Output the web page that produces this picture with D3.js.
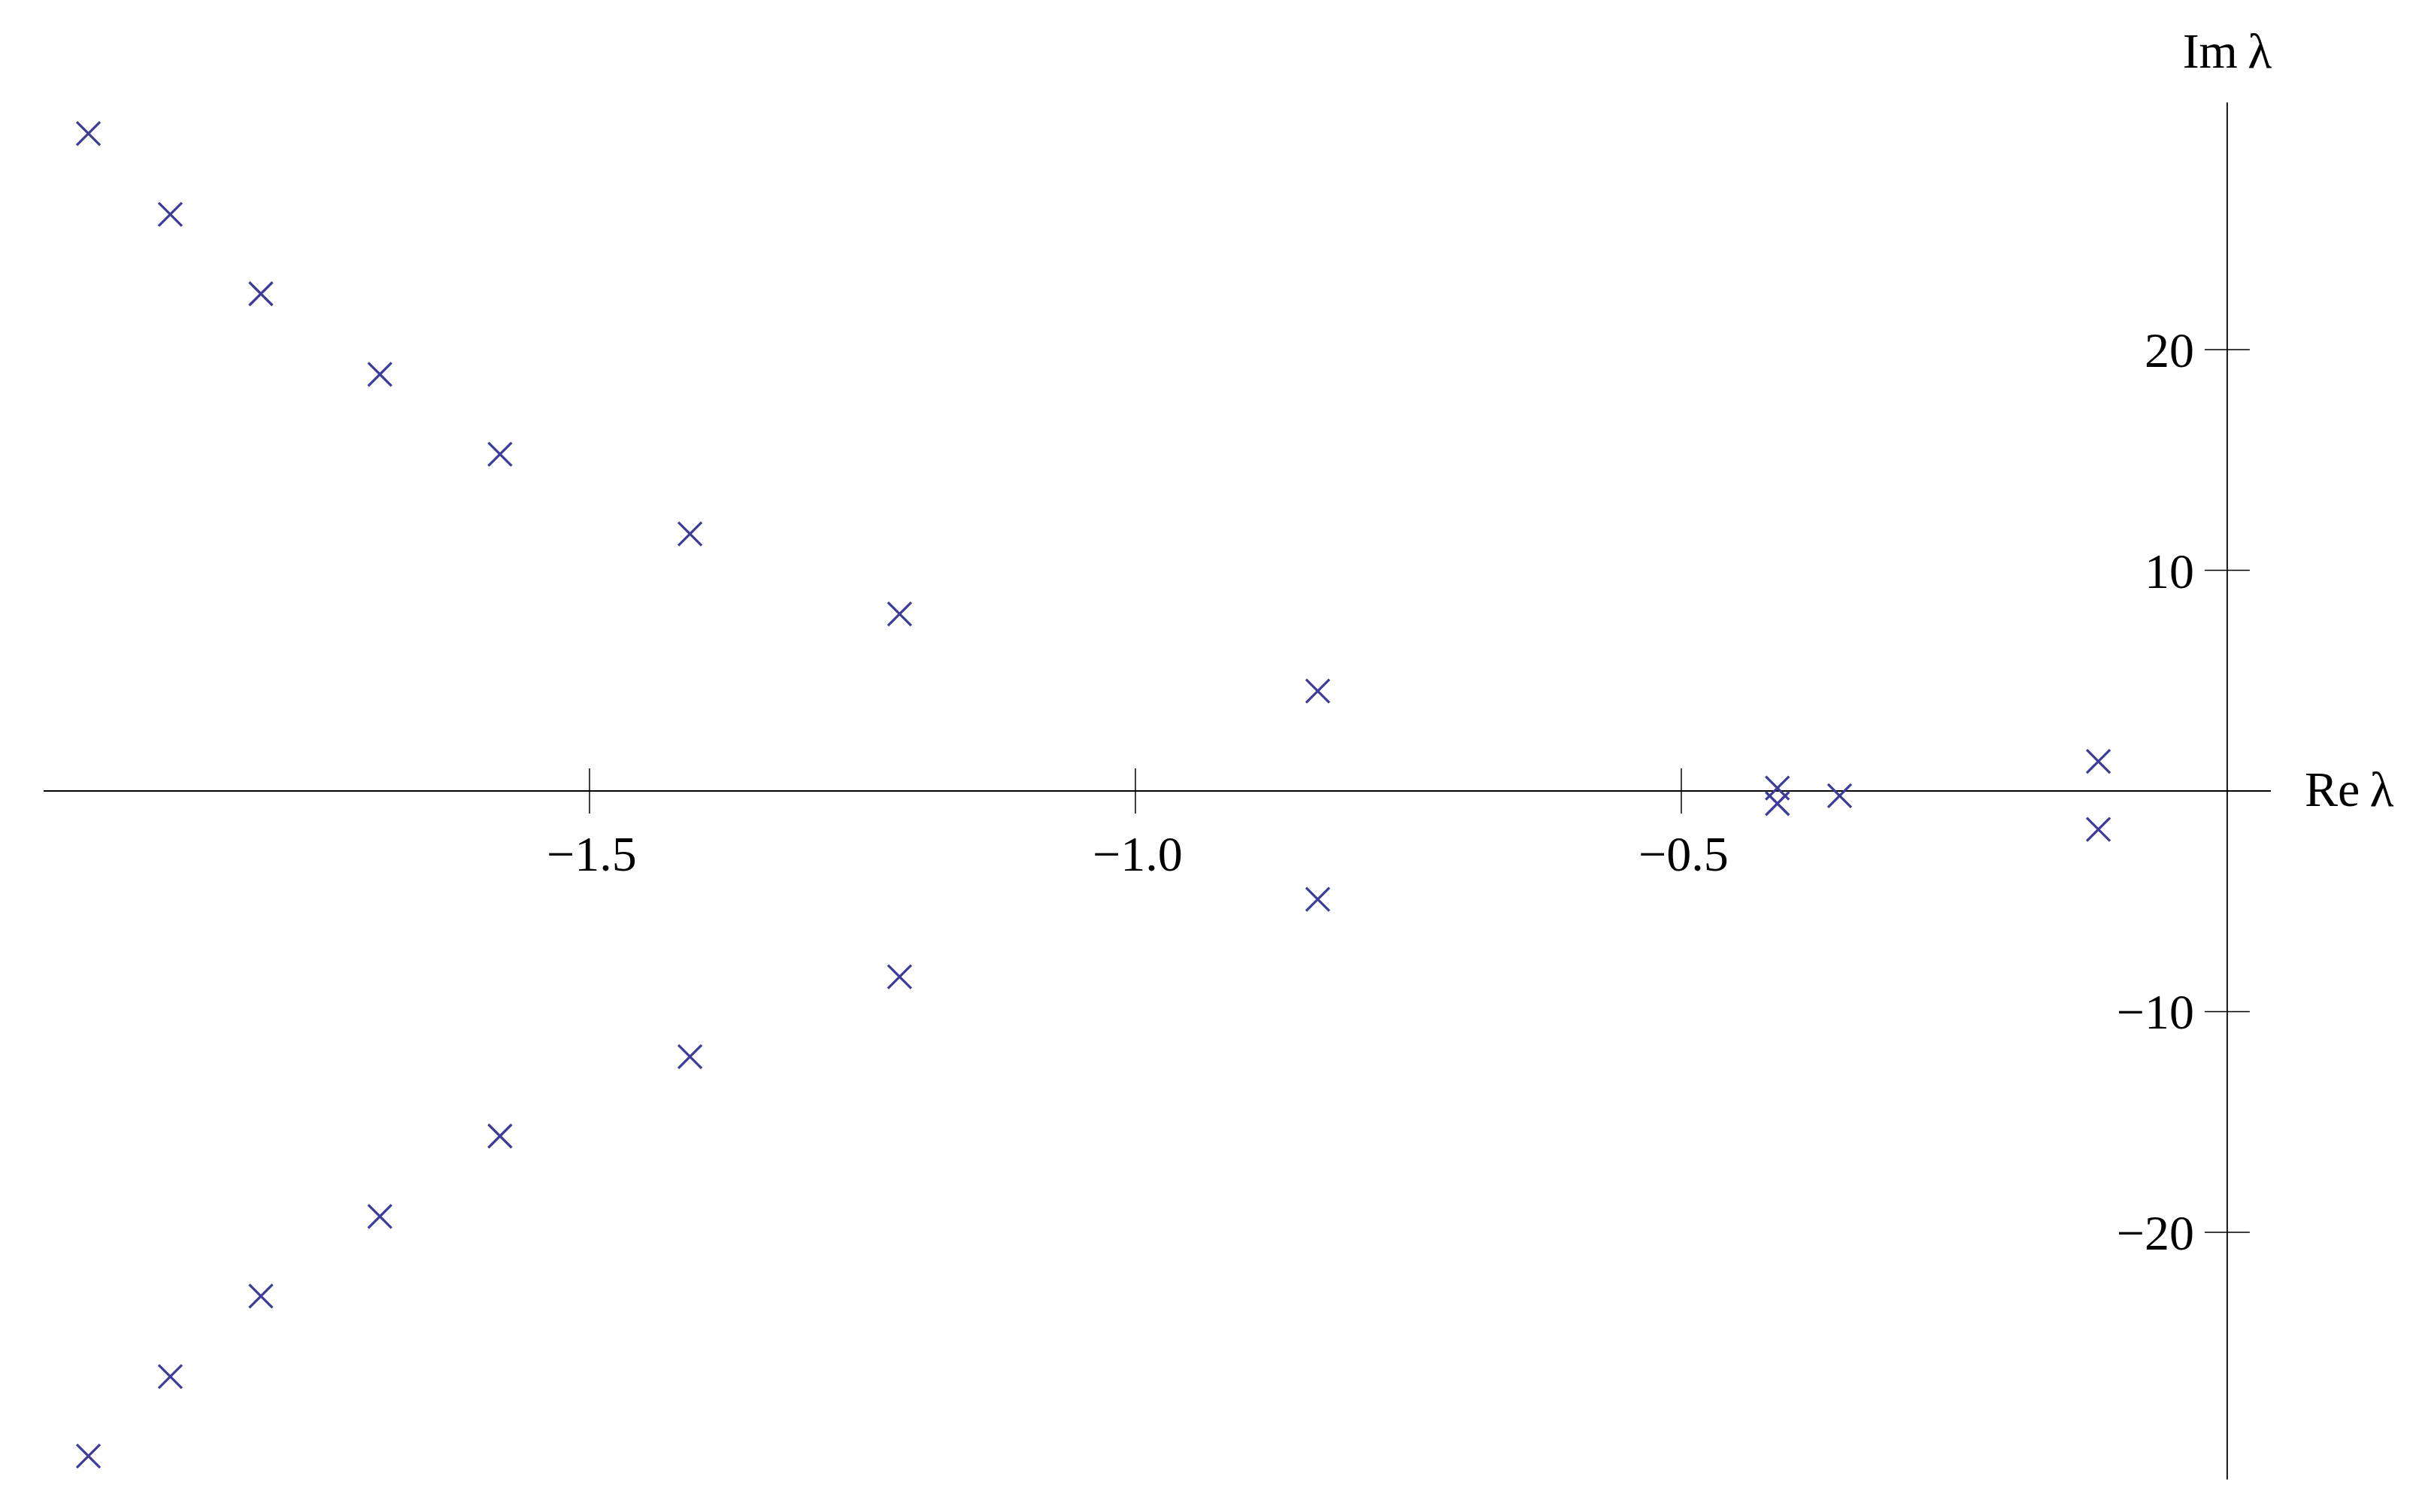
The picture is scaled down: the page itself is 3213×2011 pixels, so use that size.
<!DOCTYPE html>
<html>
<head>
<meta charset="utf-8">
<script src="https://cdn.jsdelivr.net/npm/d3@7"></script>
<style>
  html, body { margin: 0; padding: 0; background: #fff; }
  svg { display: block; }
  text { font-family: "Liberation Serif", "Times New Roman", serif; fill: #000; }
</style>
</head>
<body>
<script>
// Data: eigenvalues λ (real part, imaginary part)
const reValues = [-1.959, -1.884, -1.801, -1.692, -1.582, -1.408, -1.216, -0.833, -0.412, -0.412, -0.355, -0.118, -0.118,
                  -0.833, -1.216, -1.408, -1.582, -1.692, -1.801, -1.884, -1.959];
const imValues = [29.79, 26.13, 22.53, 18.88, 15.26, 11.65, 8.02, 4.53, 0.13, -0.57, -0.22, 1.34, -1.74,
                  -4.91, -8.42, -12.04, -15.64, -19.28, -22.89, -26.54, -30.14];
const xTicks = [-1.5, -1.0, -0.5];
const xTickLabels = ["\u22121.5", "\u22121.0", "\u22120.5"];
const yTicks = [20, 10, -10, -20];
const yTickLabels = ["20", "10", "\u221210", "\u221220"];
const xAxisLabel = "Re\u2009λ";
const yAxisLabel = "Im\u2009λ";

const W = 3213, H = 2011;
const svg = d3.select("body").append("svg").attr("width", W).attr("height", H);

const x = d3.scaleLinear().domain([-2.0, 0.04]).range([58, 3020]);
const y = d3.scaleLinear().domain([-31.2, 31.2]).range([1967.7, 136.3]);

const x0 = x(0), y0 = y(0);
const axisColor = "#000";

// X axis line
svg.append("line")
  .attr("x1", x.range()[0]).attr("x2", x.range()[1])
  .attr("y1", y0).attr("y2", y0)
  .attr("stroke", axisColor).attr("stroke-width", 1.8);
// Y axis line
svg.append("line")
  .attr("x1", x0).attr("x2", x0)
  .attr("y1", y.range()[1]).attr("y2", y.range()[0])
  .attr("stroke", axisColor).attr("stroke-width", 1.8);

const fs = 66;

// X ticks
const xt = svg.append("g").selectAll("g").data(xTicks).join("g");
xt.append("line")
  .attr("x1", d => x(d)).attr("x2", d => x(d))
  .attr("y1", y0 - 30).attr("y2", y0 + 30)
  .attr("stroke", axisColor).attr("stroke-width", 1.5);
xt.append("text")
  .attr("x", d => x(d) + 3).attr("y", y0 + 106)
  .attr("text-anchor", "middle")
  .attr("font-size", fs)
  .text((d, i) => xTickLabels[i]);

// Y ticks
const yt = svg.append("g").selectAll("g").data(yTicks).join("g");
yt.append("line")
  .attr("x1", x0 - 30).attr("x2", x0 + 30)
  .attr("y1", d => y(d)).attr("y2", d => y(d))
  .attr("stroke", axisColor).attr("stroke-width", 1.5);
yt.append("text")
  .attr("x", x0 - 44).attr("y", d => y(d) + 23)
  .attr("text-anchor", "end")
  .attr("font-size", fs)
  .text((d, i) => yTickLabels[i]);

// Axis labels
svg.append("text")
  .attr("x", x0 + 103).attr("y", y0 + 20)
  .attr("font-size", fs)
  .text(xAxisLabel);
svg.append("text")
  .attr("x", x0).attr("y", 90)
  .attr("text-anchor", "middle")
  .attr("font-size", fs)
  .text(yAxisLabel);

// Markers (×)
const pts = reValues.map((r, i) => ({ re: r, im: imValues[i] }));
const h = 15.5;
svg.append("g").selectAll("path").data(pts).join("path")
  .attr("d", d => {
    const cx = x(d.re), cy = y(d.im);
    return `M${cx - h},${cy - h}L${cx + h},${cy + h}M${cx - h},${cy + h}L${cx + h},${cy - h}`;
  })
  .attr("fill", "none")
  .attr("stroke", "#3d3d99")
  .attr("stroke-width", 3.3);
</script>
</body>
</html>
